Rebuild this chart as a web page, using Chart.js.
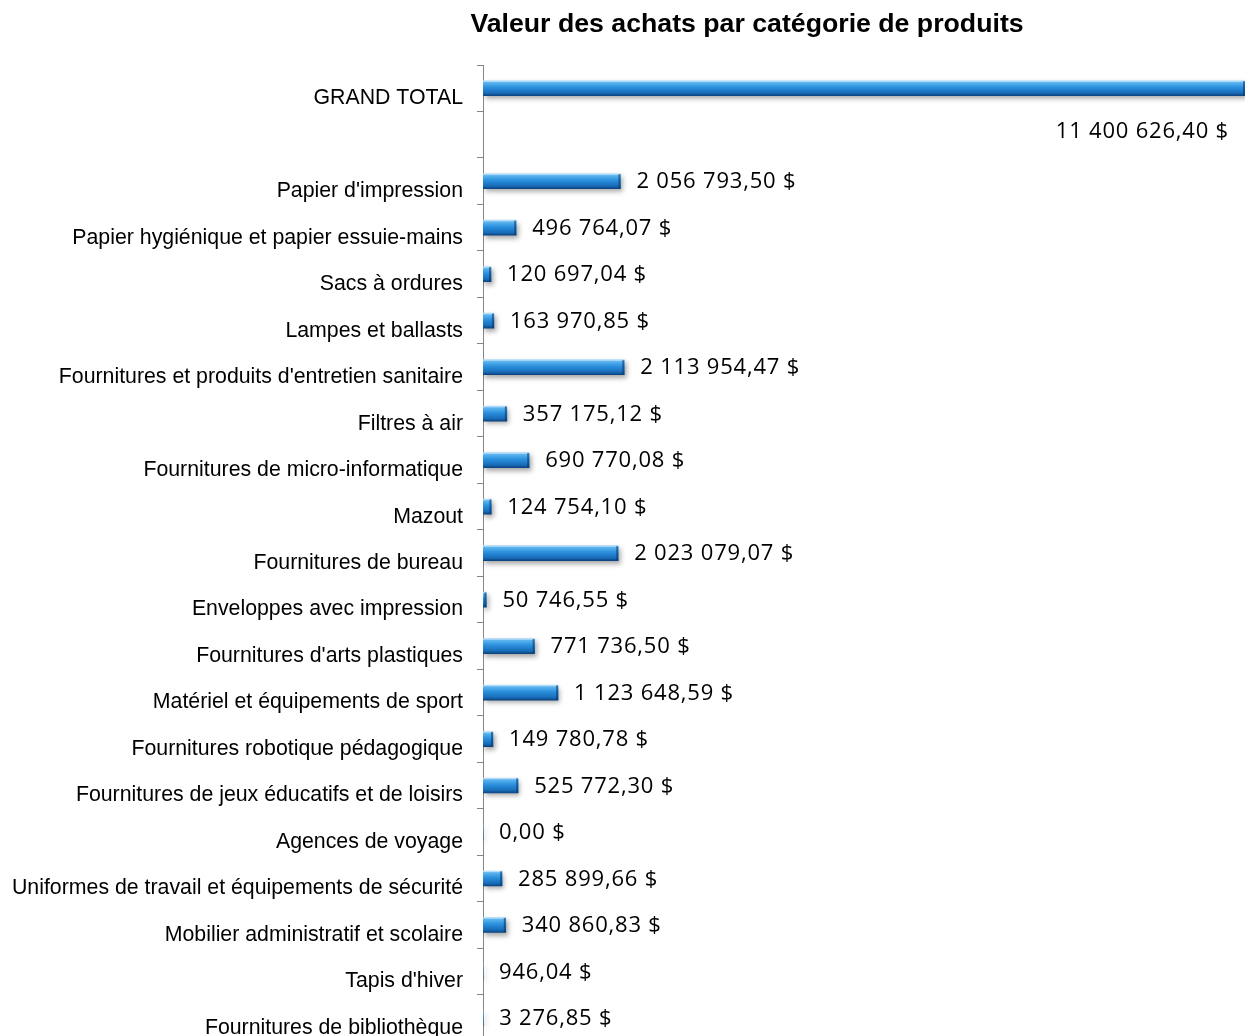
<!DOCTYPE html>
<html>
<head>
<meta charset="utf-8">
<script src="https://cdn.jsdelivr.net/npm/chart.js@4.4.1/dist/chart.umd.min.js"></script>
<style>
html, body { margin: 0; padding: 0; background: #fff; overflow: hidden; }
</style>
</head>
<body>
<canvas id="myChart" width="1249" height="1068"></canvas>
<script>
var chartTitle = 'Valeur des achats par catégorie de produits';

var categories = [
    'GRAND TOTAL',
    '',
    "Papier d'impression",
    'Papier hygiénique et papier essuie-mains',
    'Sacs à ordures',
    'Lampes et ballasts',
    "Fournitures et produits d'entretien sanitaire",
    'Filtres à air',
    'Fournitures de micro-informatique',
    'Mazout',
    'Fournitures de bureau',
    'Enveloppes avec impression',
    "Fournitures d'arts plastiques",
    'Matériel et équipements de sport',
    'Fournitures robotique pédagogique',
    'Fournitures de jeux éducatifs et de loisirs',
    'Agences de voyage',
    'Uniformes de travail et équipements de sécurité',
    'Mobilier administratif et scolaire',
    "Tapis d'hiver",
    'Fournitures de bibliothèque'
];

var purchaseValues = [
    11400626.40,
    null,
    2056793.50,
    496764.07,
    120697.04,
    163970.85,
    2113954.47,
    357175.12,
    690770.08,
    124754.10,
    2023079.07,
    50746.55,
    771736.50,
    1123648.59,
    149780.78,
    525772.30,
    0.00,
    285899.66,
    340860.83,
    946.04,
    3276.85
];

function formatDollars(v) {
    var parts = v.toFixed(2).split('.');
    var whole = parts[0].replace(/\B(?=(\d{3})+(?!\d))/g, ' ');
    return whole + ',' + parts[1] + ' $';
}

// gradient for the "tube" look of each bar
function barGradient(c) {
    var chart = c.chart;
    var y = chart.scales.y;
    if (!y || c.dataIndex === undefined) return '#1f80d2';
    var cy = y.getPixelForValue(c.dataIndex);
    if (!isFinite(cy)) return '#1f80d2';
    var g = chart.ctx.createLinearGradient(0, cy - 8, 0, cy + 8);
    g.addColorStop(0, '#b4ddf8');
    g.addColorStop(0.15, '#5cb4ee');
    g.addColorStop(0.45, '#2a8fdd');
    g.addColorStop(0.8, '#186cb8');
    g.addColorStop(1, '#0a3d75');
    return g;
}

var shadowPlugin = {
    id: 'barShadow',
    beforeDatasetsDraw: function(chart) {
        var ctx = chart.ctx;
        ctx.save();
        ctx.shadowColor = 'rgba(0,0,0,0.35)';
        ctx.shadowBlur = 5;
        ctx.shadowOffsetX = 2;
        ctx.shadowOffsetY = 3;
    },
    afterDatasetsDraw: function(chart) {
        chart.ctx.restore();
    }
};

var titlePlugin = {
    id: 'customTitle',
    afterDraw: function(chart) {
        var ctx = chart.ctx;
        ctx.save();
        ctx.font = 'bold 26.7px "Liberation Sans", Arial, sans-serif';
        ctx.fillStyle = '#000';
        ctx.textAlign = 'center';
        ctx.textBaseline = 'middle';
        ctx.fillText(chartTitle, 747, 25);
        ctx.restore();
    }
};

var valueLabels = {
    id: 'valueLabels',
    afterDatasetsDraw: function(chart) {
        var ctx = chart.ctx;
        var meta = chart.getDatasetMeta(0);
        var area = chart.chartArea;
        ctx.save();
        ctx.font = '22px "Open Sans", sans-serif';
        ctx.letterSpacing = '0.8px';
        ctx.textBaseline = 'middle';
        meta.data.forEach(function(bar, i) {
            var v = purchaseValues[i];
            if (v === null) return;
            // bevel at the end of the bar
            var w = bar.x - bar.base;
            if (w > 3) {
                ctx.fillStyle = 'rgba(8,50,100,0.55)';
                ctx.fillRect(bar.x - 2, bar.y - 7, 2, 14);
                ctx.fillStyle = 'rgba(200,230,255,0.7)';
                ctx.fillRect(bar.base, bar.y - 7.5, w - 2, 1);
            }
            ctx.fillStyle = '#000';
            var txt = formatDollars(v);
            var tw = ctx.measureText(txt).width;
            var x = bar.x + 16;
            if (x + tw > area.right) {
                ctx.textAlign = 'right';
                ctx.fillText(txt, area.right - 16, bar.y + 43);
            } else {
                ctx.textAlign = 'left';
                ctx.fillText(txt, x, bar.y + 1);
            }
        });
        ctx.restore();
    }
};

var ctx = document.getElementById('myChart').getContext('2d');
var myChart = new Chart(ctx, {
    type: 'bar',
    data: {
        labels: categories,
        datasets: [{
            label: 'Valeur des achats',
            data: purchaseValues,
            backgroundColor: barGradient,
            borderWidth: 0,
            barThickness: 15
        }]
    },
    options: {
        indexAxis: 'y',
        responsive: false,
        animation: false,
        devicePixelRatio: 1,
        layout: {
            padding: { top: 65, right: 4, bottom: 0, left: 0 }
        },
        plugins: {
            legend: { display: false },
            title: { display: false },
            tooltip: { enabled: false }
        },
        scales: {
            x: {
                display: false,
                min: 0,
                max: 11400626.40
            },
            y: {
                offset: true,
                grid: {
                    offset: true,
                    drawOnChartArea: false,
                    drawTicks: true,
                    tickLength: 6,
                    color: '#868686'
                },
                border: { color: '#868686', width: 1 },
                ticks: {
                    color: '#000',
                    autoSkip: false,
                    padding: 14,
                    labelOffset: 10,
                    font: { family: '"Liberation Sans", Arial, sans-serif', size: 21.3 }
                },
                afterFit: function(scale) {
                    scale.width = 483;
                }
            }
        }
    },
    plugins: [shadowPlugin, valueLabels, titlePlugin]
});
</script>
</body>
</html>
